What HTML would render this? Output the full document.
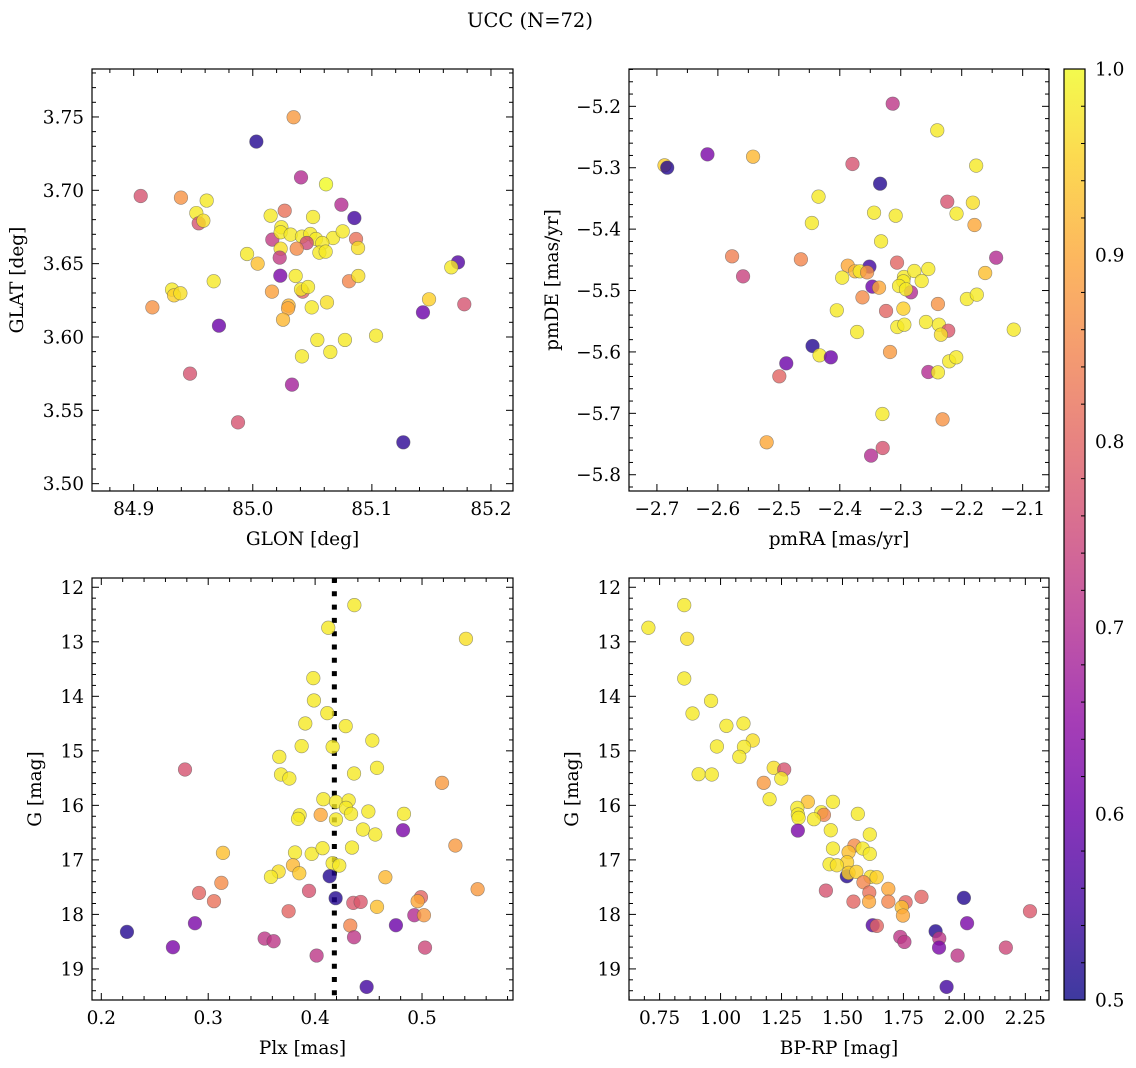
<!DOCTYPE html>
<html><head><meta charset="utf-8">
<style>
html,body{margin:0;padding:0;background:#fff;}
svg{display:block;font-family:"DejaVu Serif","Liberation Serif",serif;}
</style></head>
<body>
<svg id="fig" width="1136" height="1068" viewBox="0 0 1136 1068" xmlns="http://www.w3.org/2000/svg">
<text x="530" y="27" font-size="19.5" text-anchor="middle">UCC (N=72)</text>
</svg>
<script>
// ---- data (each panel: x values, y values, membership probability) ----
const glon = [85.0343,85.0030,85.0405,85.0615,84.9059,84.9397,84.9613,84.9526,84.9546,84.9585,85.0744,85.0853,85.0150,85.0268,85.0506,85.0240,85.0164,85.0234,85.0318,85.0413,85.0483,85.0531,85.0453,85.0674,85.0755,85.0867,85.0884,85.0584,85.0559,85.0612,85.0234,85.0226,85.0369,84.9952,85.0041,85.0231,85.0360,85.0419,85.0405,85.0464,85.0161,85.0301,85.0296,85.0254,85.0495,85.0623,85.0808,85.0886,84.9672,84.9322,84.9339,84.9392,84.9157,84.9716,85.1723,85.1667,85.1480,85.1429,85.1776,85.0542,85.0774,85.1035,85.0413,85.0651,84.9473,85.0329,84.9876,85.1264];
const glat = [3.7498,3.7332,3.7088,3.7041,3.6961,3.6950,3.6930,3.6845,3.6775,3.6793,3.6902,3.6811,3.6827,3.6861,3.6818,3.6748,3.6664,3.6714,3.6698,3.6684,3.6702,3.6668,3.6641,3.6675,3.6720,3.6668,3.6607,3.6641,3.6575,3.6582,3.6602,3.6541,3.6602,3.6566,3.6500,3.6418,3.6416,3.6309,3.6325,3.6341,3.6309,3.6214,3.6195,3.6118,3.6202,3.6236,3.6380,3.6416,3.6380,3.6323,3.6284,3.6298,3.6202,3.6077,3.6509,3.6475,3.6257,3.6168,3.6223,3.5980,3.5980,3.6009,3.5868,3.5898,3.5750,3.5675,3.5418,3.5282];
const probA = [.88,.52,.70,1.0,.77,.87,.98,.98,.77,.97,.70,.55,.98,.82,.98,.98,.73,.98,.98,.98,.98,.98,.75,.98,.98,.82,.97,.98,.98,.98,.97,.73,.86,.98,.93,.62,.98,.80,.98,.98,.89,.92,.90,.92,.98,.97,.85,.97,.98,.98,.95,.97,.87,.60,.57,.98,.95,.60,.77,.98,.98,.98,.98,.98,.77,.68,.77,.53];

const pmra = [-2.3132,-2.2401,-2.6875,-2.6831,-2.6171,-2.5423,-2.3792,-2.1763,-2.3339,-2.4349,-2.2237,-2.1817,-2.3438,-2.3083,-2.2085,-2.1790,-2.4458,-2.3323,-2.5767,-2.4638,-2.5587,-2.1435,-2.3869,-2.3514,-2.3061,-2.3749,-2.3672,-2.3552,-2.3961,-2.2947,-2.2777,-2.2548,-2.2657,-2.2957,-2.3465,-2.3356,-2.3028,-2.2832,-2.2914,-2.1615,-2.1915,-2.1752,-2.3628,-2.2390,-2.3241,-2.2957,-2.4049,-2.3716,-2.3056,-2.2941,-2.2586,-2.2374,-2.2221,-2.2341,-2.1146,-2.4447,-2.4332,-2.4147,-2.3176,-2.4878,-2.4992,-2.2548,-2.2390,-2.2205,-2.2090,-2.3301,-2.2314,-2.5200,-2.3296,-2.3487];
const pmde = [-5.1957,-5.2391,-5.2961,-5.2999,-5.2782,-5.2820,-5.2939,-5.2966,-5.3260,-5.3471,-5.3553,-5.3569,-5.3732,-5.3781,-5.3748,-5.3933,-5.3900,-5.4199,-5.4443,-5.4492,-5.4769,-5.4465,-5.4595,-5.4611,-5.4546,-5.4687,-5.4687,-5.4704,-5.4790,-5.4780,-5.4682,-5.4649,-5.4845,-5.4850,-5.4937,-5.4953,-5.4926,-5.5029,-5.4980,-5.4714,-5.5138,-5.5067,-5.5111,-5.5219,-5.5333,-5.5295,-5.5322,-5.5675,-5.5594,-5.5556,-5.5513,-5.5556,-5.5654,-5.5719,-5.5637,-5.5903,-5.6055,-5.6088,-5.6001,-5.6186,-5.6397,-5.6327,-5.6332,-5.6153,-5.6088,-5.7011,-5.7098,-5.7472,-5.7565,-5.7689];
const probB = [.72,.98,.95,.52,.62,.92,.77,.98,.52,.98,.77,.97,.98,.98,.98,.90,.98,.98,.84,.85,.74,.70,.90,.55,.80,.92,.98,.87,.98,.98,.98,.98,.98,.98,.60,.90,.98,.70,.98,.93,.98,.98,.86,.87,.80,.95,.98,.98,.98,.98,.98,.98,.78,.97,.98,.52,.98,.60,.88,.60,.80,.70,.98,.98,.98,.98,.87,.90,.77,.70];

const plx = [0.4367,0.4123,0.5411,0.3983,0.3989,0.4114,0.3908,0.4286,0.3874,0.4164,0.4535,0.3665,0.4579,0.2783,0.3681,0.3759,0.4364,0.5187,0.4077,0.4195,0.4314,0.4289,0.4336,0.4052,0.3855,0.3840,0.4195,0.4498,0.4831,0.4822,0.4448,0.4563,0.5312,0.3138,0.3812,0.3968,0.4070,0.4345,0.3793,0.3852,0.3659,0.3587,0.4164,0.4226,0.4657,0.4136,0.3123,0.5520,0.2914,0.3054,0.3943,0.4192,0.4357,0.4426,0.4579,0.4990,0.4959,0.3752,0.4928,0.5018,0.2876,0.4756,0.4329,0.2240,0.3528,0.3612,0.4364,0.2670,0.5028,0.4014,0.4482];
const gmagC = [12.327,12.743,12.945,13.667,14.076,14.309,14.498,14.547,14.914,14.927,14.810,15.110,15.312,15.343,15.434,15.508,15.416,15.587,15.887,15.936,15.911,16.046,16.156,16.174,16.180,16.248,16.260,16.113,16.156,16.456,16.443,16.535,16.737,16.872,16.865,16.890,16.786,16.774,17.098,17.245,17.214,17.312,17.061,17.104,17.318,17.300,17.422,17.538,17.606,17.758,17.569,17.703,17.789,17.771,17.862,17.685,17.758,17.942,18.015,18.015,18.162,18.199,18.205,18.321,18.443,18.492,18.419,18.602,18.609,18.755,19.330];
const probC = [.98,.98,.97,.98,.98,.98,.98,.98,.98,.98,.98,.98,.98,.77,.98,.98,.98,.88,.98,.98,.98,.98,.98,.90,.98,.98,.98,.98,.98,.62,.98,.98,.88,.93,.98,.98,.98,.98,.92,.94,.97,.98,.98,.98,.92,.52,.86,.88,.80,.82,.77,.52,.78,.78,.93,.80,.90,.80,.70,.88,.62,.60,.85,.52,.72,.72,.72,.62,.75,.72,.55];
const plxMean = 0.418;

const bprp = [0.851,0.704,0.863,0.851,0.961,0.885,1.024,1.094,1.132,1.096,0.985,1.077,1.218,1.261,0.910,0.964,1.249,1.177,1.201,1.358,1.461,1.315,1.317,1.320,1.413,1.424,1.383,1.563,1.317,1.452,1.612,1.549,1.583,1.461,1.612,1.525,1.519,1.447,1.477,1.518,1.525,1.557,1.615,1.640,1.586,1.432,1.610,1.688,1.545,1.609,1.688,1.759,1.824,1.743,1.748,1.998,2.011,1.624,1.641,2.269,1.882,1.897,1.737,1.754,1.896,2.170,1.972,1.927];
const gmagD = [12.327,12.743,12.945,13.673,14.083,14.315,14.541,14.498,14.810,14.927,14.920,15.110,15.312,15.343,15.428,15.434,15.508,15.587,15.887,15.936,15.936,16.046,16.168,16.229,16.125,16.174,16.254,16.156,16.462,16.456,16.535,16.737,16.792,16.792,16.890,16.859,17.043,17.080,17.098,17.300,17.239,17.220,17.312,17.318,17.410,17.563,17.599,17.532,17.765,17.765,17.765,17.777,17.679,17.869,18.021,17.697,18.162,18.199,18.211,17.942,18.309,18.443,18.413,18.505,18.609,18.609,18.755,19.330];
const probD = [.98,.98,.97,.98,.98,.98,.98,.98,.97,.98,.98,.98,.97,.77,.98,.98,.98,.88,.98,.93,.98,.98,.98,.98,.98,.85,.98,.98,.62,.98,.98,.86,.98,.98,.98,.93,.95,.98,.97,.52,.95,.95,.97,.95,.85,.77,.82,.90,.80,.90,.85,.80,.80,.93,.90,.52,.62,.57,.80,.78,.52,.72,.72,.72,.62,.75,.72,.55];

const ticksA_x = [84.9,85.0,85.1,85.2], ticksA_xl = ["84.9","85.0","85.1","85.2"];
const ticksA_y = [3.50,3.55,3.60,3.65,3.70,3.75], ticksA_yl = ["3.50","3.55","3.60","3.65","3.70","3.75"];
const ticksB_x = [-2.7,-2.6,-2.5,-2.4,-2.3,-2.2,-2.1], ticksB_xl = ["\u22122.7","\u22122.6","\u22122.5","\u22122.4","\u22122.3","\u22122.2","\u22122.1"];
const ticksB_y = [-5.8,-5.7,-5.6,-5.5,-5.4,-5.3,-5.2], ticksB_yl = ["\u22125.8","\u22125.7","\u22125.6","\u22125.5","\u22125.4","\u22125.3","\u22125.2"];
const ticksC_x = [0.2,0.3,0.4,0.5], ticksC_xl = ["0.2","0.3","0.4","0.5"];
const ticksG = [12,13,14,15,16,17,18,19], ticksG_l = ["12","13","14","15","16","17","18","19"];
const ticksD_x = [0.75,1.0,1.25,1.5,1.75,2.0,2.25], ticksD_xl = ["0.75","1.00","1.25","1.50","1.75","2.00","2.25"];
const cbTicks = [0.5,0.6,0.7,0.8,0.9,1.0], cbTickLabels = ["0.5","0.6","0.7","0.8","0.9","1.0"];

const FS = 18.5;
const NS = "http://www.w3.org/2000/svg";
const svg = document.getElementById('fig');
function mk(tag, attrs, parent){ const e=document.createElementNS(NS,tag); for(const k in attrs) e.setAttribute(k,attrs[k]); (parent||svg).appendChild(e); return e; }

const stops = ["#0d0887","#41049d","#6a00a8","#8f0da4","#b12a90","#cc4778","#e16462","#f2844b","#fca636","#fcce25","#f0f921"];
function hex(h){return [parseInt(h.substr(1,2),16),parseInt(h.substr(3,2),16),parseInt(h.substr(5,2),16)];}
function plasma(v){ let t=(v-0.5)/0.5; t=Math.max(0,Math.min(1,t)); const f=t*10, i=Math.min(9,Math.floor(f)), r=f-i;
  const a=hex(stops[i]), b=hex(stops[i+1]); return 'rgb('+a.map((c,k)=>Math.round(c+(b[k]-c)*r)).join(',')+')'; }

function panel(cfg){
  const g = mk('g',{});
  
  
  const L=cfg.left, T=cfg.top, W=cfg.w, H=cfg.h;
  const sx = v => L + (v-cfg.x0)/(cfg.x1-cfg.x0)*W;
  const sy = cfg.invert ? (v => T + (v-cfg.y0)/(cfg.y1-cfg.y0)*H) : (v => T + (cfg.y1-v)/(cfg.y1-cfg.y0)*H);
  const tg = mk('g',{stroke:'#000','stroke-width':1},g);
  
  
  const eps=1e-9;
  for(let v=Math.ceil((cfg.x0)/cfg.xm-eps)*cfg.xm; v<=cfg.x1+eps; v+=cfg.xm){
    const x=sx(v); const major = cfg.xt.some(t=>Math.abs(t-v)<cfg.xm/3); const len=major?7:4;
    mk('line',{x1:x,x2:x,y1:T+H,y2:T+H-len},tg); mk('line',{x1:x,x2:x,y1:T,y2:T+len},tg);
  }
  for(let v=Math.ceil((cfg.y0)/cfg.ym-eps)*cfg.ym; v<=cfg.y1+eps; v+=cfg.ym){
    const y=sy(v); const major = cfg.yt.some(t=>Math.abs(t-v)<cfg.ym/3); const len=major?7:4;
    mk('line',{x1:L,x2:L+len,y1:y,y2:y},tg); mk('line',{x1:L+W,x2:L+W-len,y1:y,y2:y},tg);
  }
  cfg.xt.forEach((v,i)=>{ const t=mk('text',{x:sx(v),y:T+H+24,'font-size':FS,'text-anchor':'middle'},g); t.textContent=cfg.xl[i];
      });
  cfg.yt.forEach((v,i)=>{ const t=mk('text',{x:L-8,y:sy(v)+6.5,'font-size':FS,'text-anchor':'end'},g); t.textContent=cfg.yl[i];
      });
  const xt=mk('text',{x:L+W/2,y:T+H+54,'font-size':FS,'text-anchor':'middle'},g); xt.textContent=cfg.xlabel;
   
  const yx=L-cfg.ylabOff; const yt=mk('text',{x:yx,y:T+H/2,'font-size':FS,'text-anchor':'middle',transform:'rotate(-90 '+yx+' '+(T+H/2)+')'},g); yt.textContent=cfg.ylabel;
   
  const cid='clip'+cfg.name; const cp=mk('clipPath',{id:cid},g); mk('rect',{x:L,y:T,width:W,height:H},cp);
  const pg = mk('g',{'clip-path':'url(#'+cid+')'},g);
  if(cfg.vline!==undefined){ const ln=mk('line',{x1:sx(cfg.vline),x2:sx(cfg.vline),y1:T,y2:T+H,stroke:'#000','stroke-width':5,'stroke-dasharray':'5,8.3'},pg);
      }
  cfg.xs.forEach((v,i)=>{ const c=mk('circle',{cx:sx(v),cy:sy(cfg.ys[i]),r:6.8,fill:plasma(cfg.ps[i]),'fill-opacity':0.8,stroke:'#555','stroke-opacity':0.6,'stroke-width':0.6},pg);
      });
  const fr=mk('rect',{x:L,y:T,width:W,height:H,fill:'none',stroke:'#000','stroke-width':1.2},g);
   
}

panel({name:'panel-sky',left:92,top:69,w:421,h:422,x0:84.865,x1:85.2185,y0:3.495,y1:3.7827,xm:0.02,ym:0.01,
  xt:ticksA_x,xl:ticksA_xl,yt:ticksA_y,yl:ticksA_yl,xlabel:'GLON [deg]',ylabel:'GLAT [deg]',ylabOff:69,xs:glon,ys:glat,ps:probA});
panel({name:'panel-proper-motion',left:629,top:69,w:420,h:422,x0:-2.7458,x1:-2.0568,y0:-5.8265,y1:-5.1392,xm:0.05,ym:0.02,
  xt:ticksB_x,xl:ticksB_xl,yt:ticksB_y,yl:ticksB_yl,xlabel:'pmRA [mas/yr]',ylabel:'pmDE [mas/yr]',ylabOff:71,xs:pmra,ys:pmde,ps:probB});
panel({name:'panel-parallax',left:92,top:578,w:421,h:422,x0:0.1913,x1:0.5851,y0:11.83,y1:19.57,xm:0.02,ym:0.2,invert:true,
  xt:ticksC_x,xl:ticksC_xl,yt:ticksG,yl:ticksG_l,xlabel:'Plx [mas]',ylabel:'G [mag]',ylabOff:51,xs:plx,ys:gmagC,ps:probC,vline:plxMean});
panel({name:'panel-cmd',left:629,top:578,w:420,h:422,x0:0.6245,x1:2.347,y0:11.83,y1:19.57,xm:0.0625,ym:0.2,invert:true,
  xt:ticksD_x,xl:ticksD_xl,yt:ticksG,yl:ticksG_l,xlabel:'BP-RP [mag]',ylabel:'G [mag]',ylabOff:51,xs:bprp,ys:gmagD,ps:probD});

// colorbar
(function(){
  const L=1064,T=69,W=21,H=931;
  const cb=mk('g',{});  
  const defs=mk('defs',{},cb); const lg=mk('linearGradient',{id:'cbg',x1:0,y1:1,x2:0,y2:0},defs);
  for(let i=0;i<=20;i++){ mk('stop',{offset:i/20,'stop-color':plasma(0.5+i/40),'stop-opacity':0.8},lg); }
  mk('rect',{x:L,y:T,width:W,height:H,fill:'url(#cbg)'},cb);
  for(let v=0.5; v<=1.0001; v+=0.02){ const y=T+(1-v)/0.5*H; const major=cbTicks.some(t=>Math.abs(t-v)<0.005);
    mk('line',{x1:L+W,x2:L+W-(major?0:4),y1:y,y2:y,stroke:'#000','stroke-width':1},cb); }
  cbTicks.forEach((v,i)=>{ const y=T+(1-v)/0.5*H; const t=mk('text',{x:L+W+10,y:y+6.5,'font-size':FS},cb); t.textContent=cbTickLabels[i];
      });
  mk('rect',{x:L,y:T,width:W,height:H,fill:'none',stroke:'#000','stroke-width':1.2},cb);
})();
</script>
</body></html>
